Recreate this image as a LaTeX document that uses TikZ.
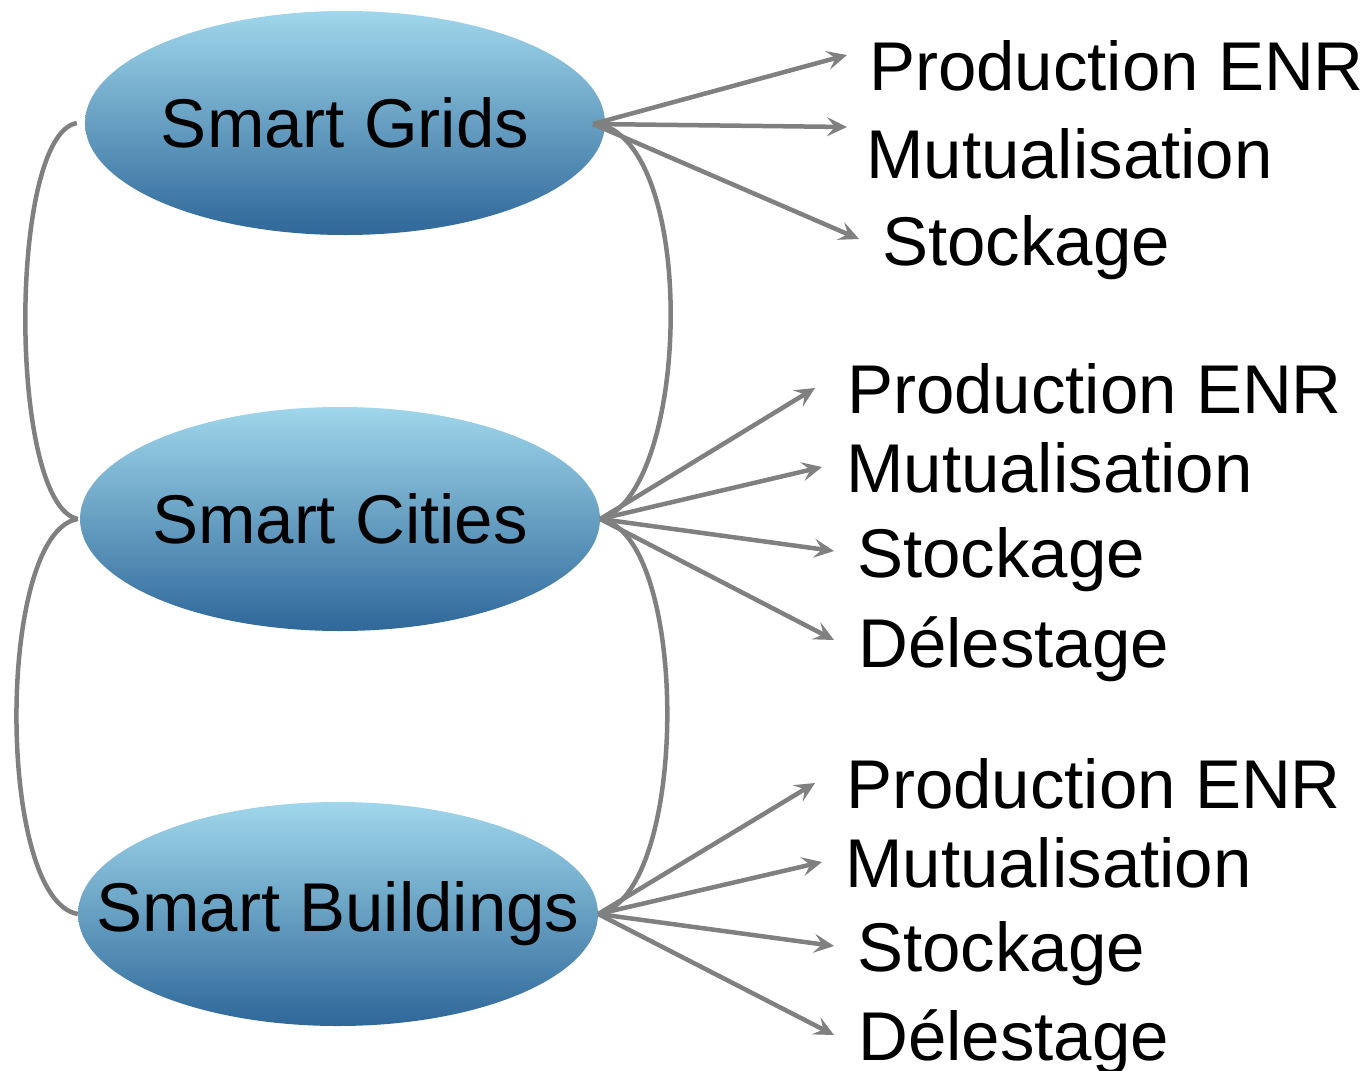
\documentclass[tikz,border=0pt]{standalone}
\usepackage{fontspec}
\setmainfont{Liberation Sans}
\usetikzlibrary{shapes.geometric,arrows.meta}
\definecolor{elltop}{HTML}{A0D7EB}
\definecolor{ellbot}{HTML}{2E6799}
\definecolor{linegray}{HTML}{808080}
\begin{document}
\begin{tikzpicture}[x=1pt,y=-1pt,
  bigtext/.style={font=\fontsize{69}{80}\selectfont},
  hub/.style={ellipse, minimum width=520, minimum height=224, inner sep=0pt,
    top color=elltop, bottom color=ellbot, draw=none, bigtext},
  lbl/.style={anchor=base west, inner sep=0pt, bigtext},
  conn/.style={draw=linegray, line width=4.5pt},
  arr/.style={conn, -{Stealth[length=20pt,width=19pt,inset=8pt]}}]
\useasboundingbox (0,0) rectangle (1366,1071);
\fill[white] (0,0) rectangle (1366,1071);

% hub ellipses
\node[hub] (g) at (345,123) {\makebox[0pt]{Smart Grids}};
\node[hub] (c) at (340,519) {\makebox[0pt]{Smart Cities}};
\node[hub] (b) at (338,914) {\makebox[0pt]{\raisebox{-3pt}{Smart Buildings}}};

% labels
\node[lbl] (g1) at (869,90) {Production ENR};
\node[lbl] (g2) at (866,178) {Mutualisation};
\node[lbl] (g3) at (882,265) {Stockage};

\node[lbl] (c1) at (847,413) {Production ENR};
\node[lbl] (c2) at (846,492) {Mutualisation};
\node[lbl] (c3) at (857,577) {Stockage};
\node[lbl] (c4) at (858,667) {Délestage};

\node[lbl] (b1) at (846,808) {Production ENR};
\node[lbl] (b2) at (845,887) {Mutualisation};
\node[lbl] (b3) at (857,971) {Stockage};
\node[lbl] (b4) at (858,1060) {Délestage};

% arrow ends
\coordinate (gs) at (593,124);
\coordinate (ge1) at (847,55);
\coordinate (ge2) at (847,127);
\coordinate (ge3) at (859,239);
\coordinate (ce1) at (815,388);
\coordinate (ce2) at (822,467);
\coordinate (ce3) at (834,551);
\coordinate (ce4) at (834,640);
\coordinate (be1) at (815,783);
\coordinate (be2) at (822,862);
\coordinate (be3) at (834,946);
\coordinate (be4) at (834,1035);

% left curves
\draw[conn] ([xshift=-8]g.west) .. controls (8,135) and (8,505) .. ([xshift=-2]c.west);
\draw[conn] ([xshift=-2]c.west) .. controls (-4,532) and (-4,900) .. (b.west);

% right curves
\draw[conn] ([xshift=-10]g.east) .. controls (700,140) and (690,495) .. (c.east);
\draw[conn] (c.east) .. controls (690,535) and (690,895) .. (b.east);

% arrows
\foreach \e in {ge1,ge2,ge3} \draw[arr] (gs) -- (\e);
\foreach \e in {ce1,ce2,ce3,ce4} \draw[arr] (c.east) -- (\e);
\foreach \e in {be1,be2,be3,be4} \draw[arr] (b.east) -- (\e);
\end{tikzpicture}
\end{document}
